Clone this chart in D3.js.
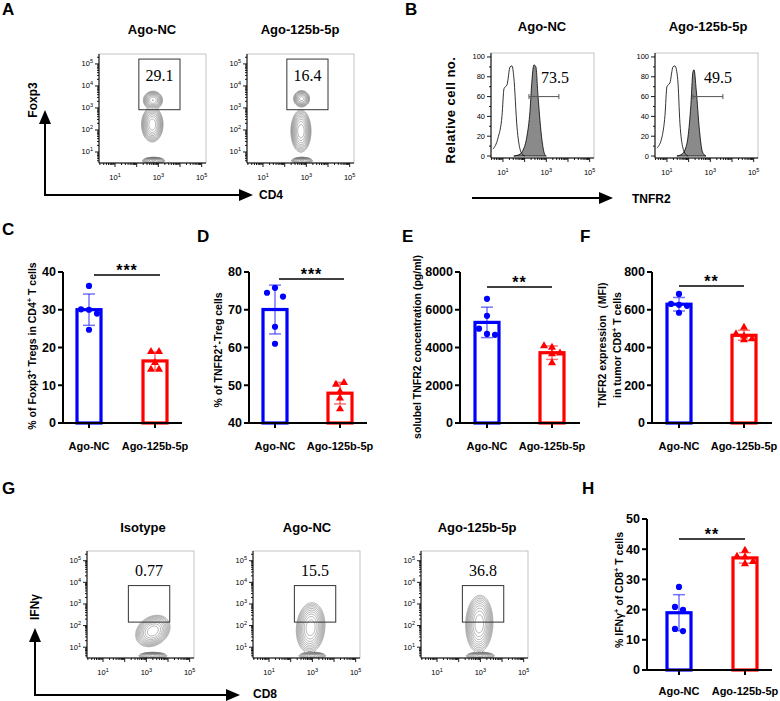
<!DOCTYPE html>
<html>
<head>
<meta charset="utf-8">
<script src="https://cdn.jsdelivr.net/npm/d3@7/dist/d3.min.js"></script>
<style>
  body { margin: 0; background: #fff; }
  svg text { font-family: Arial, "Liberation Sans", sans-serif; }
  svg text.num { font-family: "Liberation Serif", "Times New Roman", serif; }
</style>
</head>
<body>
<svg id="fig" width="780" height="701"></svg>
<script>
// ---------- data ----------
const groups = ["Ago-NC", "Ago-125b-5p"];

// A: Foxp3 vs CD4, populations [log CD4, log Foxp3, sdX, sdY, weight, rho]
const titlesA = ["Ago-NC", "Ago-125b-5p"];
const gatePctA = [29.1, 16.4];
const gateA = [2.1, 4.0, 2.92, 5.22];
const popsA_NC = [[2.75, 3.35, 0.14, 0.13, 0.6, 0], [2.72, 2.25, 0.15, 0.24, 1.0, 0], [2.78, 0.6, 0.16, 0.05, 0.7, 0]];
const popsA_125 = [[2.78, 3.42, 0.12, 0.12, 0.45, 0], [2.75, 1.95, 0.14, 0.29, 1.0, 0], [2.8, 0.6, 0.15, 0.05, 0.7, 0]];

// B: TNFR2 histograms, points [log TNFR2, % of max]
const titlesB = ["Ago-NC", "Ago-125b-5p"];
const gatePctB = [73.5, 49.5];
const gateB = [2.2, 3.58];
const isoB_NC = [[0.54, 7], [0.77, 18], [0.96, 41], [1.05, 68], [1.19, 72], [1.33, 90], [1.42, 91], [1.5, 80], [1.65, 29], [1.8, 6], [1.93, 1], [2.0, 0]];
const tnfrB_NC = [[1.5, 0], [1.8, 2], [1.93, 6], [2.1, 19], [2.25, 46], [2.33, 74], [2.43, 92], [2.52, 90], [2.62, 60], [2.8, 16], [2.94, 1], [3.0, 0]];
const isoB_125 = [[0.54, 8], [0.77, 19], [0.91, 41], [1.0, 70], [1.14, 74], [1.28, 90], [1.37, 91], [1.5, 77], [1.6, 33], [1.74, 8], [1.9, 1], [1.98, 0]];
const tnfrB_125 = [[1.46, 0], [1.69, 2], [1.83, 6], [1.97, 19], [2.1, 50], [2.2, 85], [2.25, 87], [2.35, 67], [2.5, 26], [2.64, 4], [2.8, 0]];

// C-F, H: bar charts (individual mice)
const tregNC = [36.3, 30.1, 30.0, 29.0, 24.7];
const treg125 = [18.9, 18.9, 16.0, 14.2, 14.2];
const tnfrTregNC = [74.5, 75.8, 73.5, 65.5, 61.0];
const tnfrTreg125 = [50.2, 50.7, 48.3, 46.6, 43.7];
const solTnfrNC = [6580, 5680, 5000, 4720, 4670];
const solTnfr125 = [4085, 4000, 3700, 3660, 3180];
const mfiNC = [684, 631, 626, 621, 584];
const mfi125 = [506, 472, 460, 445, 440];
const ifngNC = [27.5, 20.9, 19.9, 13.6, 12.9];
const ifng125 = [39.6, 37.6, 37.4, 35.9, 35.1];

const ticksC = [0, 10, 20, 30, 40];
const ticksD = [40, 50, 60, 70, 80];
const ticksE = [0, 2000, 4000, 6000, 8000];
const ticksF = [0, 200, 400, 600, 800];
const ticksH = [0, 10, 20, 30, 40, 50];

// G: IFNg vs CD8
const titlesG = ["Isotype", "Ago-NC", "Ago-125b-5p"];
const gatePctG = [0.77, 15.5, 36.8];
const gateG = [2.17, 4.08, 2.16, 3.85];
const popsG_Iso = [[3.3, 1.75, 0.24, 0.22, 1.0, 0.25], [3.3, 0.6, 0.2, 0.05, 0.8, 0]];
const popsG_NC = [[2.92, 1.9, 0.2, 0.35, 1.0, 0.1], [3.0, 0.6, 0.19, 0.05, 0.8, 0]];
const popsG_125 = [[2.95, 2.08, 0.19, 0.4, 1.0, 0.05], [3.0, 0.6, 0.2, 0.05, 0.8, 0]];

// ---------- drawing ----------
const svg = d3.select("#fig");
const BLUE = "#0000ff", RED = "#ff0000";
const flowX = [0.26, 5.2], flowY = [0.5, 5.45];
let clipN = 0;

function letter(x, y, t) {
    svg.append("text").attr("x", x).attr("y", y).attr("font-size", 17)
        .attr("font-weight", "bold").text(t);
}

function title(x, y, t) {
    svg.append("text").attr("x", x).attr("y", y).attr("text-anchor", "middle")
        .attr("font-size", 13).attr("font-weight", "bold").text(t);
}

function addParts(sel, parts) {
    parts.forEach(p => {
        const t = sel.append("tspan").text(p[0]);
        if (p[1]) t.attr("baseline-shift", "super").attr("font-size", "70%");
    });
}

function pow10(sel, k) {
    sel.append("tspan").text("10");
    sel.append("tspan").attr("baseline-shift", "super").attr("font-size", 5.5).text(k);
}

// log axes shared by flow plots and histograms
function logTicksX(g, xs, h) {
    for (let k = 0; k <= 5; k++) {
        for (let m = 1; m <= 9; m++) {
            const v = k + Math.log10(m);
            if (v < xs.domain()[0] || v > xs.domain()[1]) continue;
            g.append("line").attr("x1", xs(v)).attr("x2", xs(v))
                .attr("y1", h).attr("y2", h + (m === 1 ? 4 : 2))
                .attr("stroke", "#000").attr("stroke-width", 0.9);
        }
    }
    [1, 3, 5].forEach(k => {
        const t = g.append("text").attr("x", xs(k)).attr("y", h + 17)
            .attr("text-anchor", "middle").attr("font-size", 7.5);
        pow10(t, k);
    });
}

function frame(g, w, h) {
    g.append("rect").attr("width", w).attr("height", h).attr("fill", "none")
        .attr("stroke", "#b5b5b5").attr("stroke-width", 0.8);
    g.append("line").attr("x1", 0).attr("x2", 0).attr("y1", 0).attr("y2", h)
        .attr("stroke", "#000").attr("stroke-width", 1);
    g.append("line").attr("x1", 0).attr("x2", w).attr("y1", h).attr("y2", h)
        .attr("stroke", "#000").attr("stroke-width", 1);
}

function flowPlot(x0, y0, w, h, pops, gate, pct, labelInside) {
    const g = svg.append("g").attr("transform", `translate(${x0},${y0})`);
    const xs = d3.scaleLinear().domain(flowX).range([0, w]);
    const ys = d3.scaleLinear().domain(flowY).range([h, 0]);

    const vals = new Float64Array(w * h);
    for (let j = 0; j < h; j++) {
        for (let i = 0; i < w; i++) {
            const lx = xs.invert(i + 0.5), ly = ys.invert(j + 0.5);
            let s = 0;
            pops.forEach(([cx, cy, sx, sy, wt, rho]) => {
                const dx = (lx - cx) / sx, dy = (ly - cy) / sy;
                s += wt * Math.exp(-0.5 * (dx * dx - 2 * rho * dx * dy + dy * dy) / (1 - rho * rho));
            });
            vals[j * w + i] = s;
        }
    }
    const mx = d3.max(vals);
    const th = d3.range(1, 11).map(k => mx * Math.pow(0.58, k));
    const cs = d3.contours().size([w, h]).thresholds(th)(vals);

    const id = "clip" + (clipN++);
    g.append("clipPath").attr("id", id).append("rect").attr("width", w).attr("height", h);
    g.append("g").attr("clip-path", `url(#${id})`)
        .selectAll("path").data(cs).join("path")
        .attr("d", d3.geoPath())
        .attr("fill", "none").attr("stroke", "#666").attr("stroke-width", 0.5);

    frame(g, w, h);
    // y log ticks
    for (let k = 0; k <= 5; k++) {
        for (let m = 1; m <= 9; m++) {
            const v = k + Math.log10(m);
            if (v < flowY[0] || v > flowY[1]) continue;
            g.append("line").attr("x1", 0).attr("x2", m === 1 ? -4 : -2)
                .attr("y1", ys(v)).attr("y2", ys(v))
                .attr("stroke", "#000").attr("stroke-width", 0.9);
        }
    }
    [1, 2, 3, 4, 5].forEach(k => {
        const t = g.append("text").attr("x", -6).attr("y", ys(k) + 2.5)
            .attr("text-anchor", "end").attr("font-size", 7.5);
        pow10(t, k);
    });
    logTicksX(g, xs, h);

    // gate
    const gx = xs(gate[0]), gy = ys(gate[3]);
    g.append("rect").attr("x", gx).attr("y", gy)
        .attr("width", xs(gate[1]) - gx).attr("height", ys(gate[2]) - gy)
        .attr("fill", "none").attr("stroke", "#333").attr("stroke-width", 1);
    g.append("text").attr("class", "num").attr("x", (gx + xs(gate[1])) / 2)
        .attr("y", labelInside ? gy + 22 : gy - 10)
        .attr("text-anchor", "middle").attr("font-size", 16).text(pct);
}

function histPlot(x0, y0, w, h, iso, filled, gate, pct, lab) {
    const g = svg.append("g").attr("transform", `translate(${x0},${y0})`);
    const xs = d3.scaleLinear().domain([0.45, 5.2]).range([0, w]);
    const ys = d3.scaleLinear().domain([-2, 104]).range([h, 0]);
    const area = d3.area().x(d => xs(d[0])).y0(ys(0)).y1(d => ys(d[1])).curve(d3.curveMonotoneX);
    const line = d3.line().x(d => xs(d[0])).y(d => ys(d[1])).curve(d3.curveMonotoneX);
    g.append("path").attr("d", area(filled)).attr("fill", "#8a8a8a")
        .attr("stroke", "#000").attr("stroke-width", 0.8);
    g.append("path").attr("d", line(iso)).attr("fill", "none")
        .attr("stroke", "#000").attr("stroke-width", 0.8);

    frame(g, w, h);
    d3.range(0, 101, 10).forEach(v => {
        g.append("line").attr("x1", 0).attr("x2", v % 20 === 0 ? -4 : -2)
            .attr("y1", ys(v)).attr("y2", ys(v)).attr("stroke", "#000").attr("stroke-width", 0.9);
    });
    d3.range(0, 101, 20).forEach(v => {
        g.append("text").attr("x", -6).attr("y", ys(v) + 2.5).attr("text-anchor", "end")
            .attr("font-size", 7.5).text(v);
    });
    logTicksX(g, xs, h);

    // gate bar
    const gy = ys(60);
    g.append("line").attr("x1", xs(gate[0])).attr("x2", xs(gate[1])).attr("y1", gy).attr("y2", gy)
        .attr("stroke", "#555").attr("stroke-width", 1);
    [gate[0], gate[1]].forEach(v => g.append("line").attr("x1", xs(v)).attr("x2", xs(v))
        .attr("y1", gy - 2.5).attr("y2", gy + 2.5).attr("stroke", "#555").attr("stroke-width", 1));
    g.append("text").attr("class", "num").attr("x", xs(lab)).attr("y", ys(74)).attr("text-anchor", "middle")
        .attr("font-size", 16).text(pct);
}

function arrowV(x, yBottom, yTip) {
    svg.append("line").attr("x1", x).attr("x2", x).attr("y1", yBottom).attr("y2", yTip + 10)
        .attr("stroke", "#000").attr("stroke-width", 2);
    svg.append("path").attr("d", `M${x},${yTip} L${x - 6},${yTip + 14} L${x + 6},${yTip + 14} Z`).attr("fill", "#000");
}

function arrowH(xStart, xTip, y) {
    svg.append("line").attr("x1", xStart).attr("x2", xTip - 10).attr("y1", y).attr("y2", y)
        .attr("stroke", "#000").attr("stroke-width", 2);
    svg.append("path").attr("d", `M${xTip},${y} L${xTip - 14},${y - 6} L${xTip - 14},${y + 6} Z`).attr("fill", "#000");
}

function axisLabel(x, y, t, rot) {
    const el = svg.append("text").attr("font-size", 12).attr("font-weight", "bold")
        .attr("text-anchor", rot ? "middle" : "start").text(t);
    if (rot) el.attr("transform", `translate(${x},${y}) rotate(-90)`);
    else el.attr("x", x).attr("y", y);
    return el;
}

// beeswarm-like rows: points closer than thr px share a row, centred on the bar
function swarm(values, ys, step, thr, maxRow) {
    const idx = values.map((v, i) => i).sort((a, b) => values[b] - values[a]);
    const rows = [];
    let cur = [];
    idx.forEach(i => {
        if (cur.length && (Math.abs(ys(values[i]) - ys(values[cur[cur.length - 1]])) >= thr || cur.length >= maxRow)) {
            rows.push(cur);
            cur = [];
        }
        cur.push(i);
    });
    rows.push(cur);
    const off = [];
    rows.forEach(r => {
        r.sort((a, b) => a - b);
        r.forEach((i, k) => off[i] = (k - (r.length - 1) / 2) * step);
    });
    return off;
}

function barPanel(c) {
    const g = svg.append("g");
    const ys = d3.scaleLinear().domain(c.domain).range([c.bottom, c.top]);
    const xs = d3.scalePoint().domain(groups).range(c.cx);

    const sets = [[c.nc, BLUE, "circle"], [c.mi, RED, "tri"]];
    sets.forEach(([vals, col, shape], gi) => {
        const cx = xs(groups[gi]);
        const m = d3.mean(vals), sd = d3.deviation(vals);
        g.append("rect").attr("x", cx - 12).attr("y", ys(m))
            .attr("width", 24).attr("height", ys(c.domain[0]) - ys(m))
            .attr("fill", "#fff").attr("stroke", col).attr("stroke-width", 3.2);
        const off = swarm(vals, ys, 8, 6, 3);
        const pg = g.append("g");
        vals.forEach((v, i) => {
            if (shape === "circle") {
                pg.append("circle").attr("cx", cx + off[i]).attr("cy", ys(v)).attr("r", 3.1).attr("fill", col);
            } else {
                pg.append("path").attr("d", d3.symbol(d3.symbolTriangle, 28)())
                    .attr("transform", `translate(${cx + off[i]},${ys(v)})`).attr("fill", col);
            }
        });
        const eg = g.append("g").attr("stroke", col).attr("stroke-opacity", 0.55).attr("stroke-width", 1.5);
        eg.append("line").attr("x1", cx).attr("x2", cx).attr("y1", ys(m + sd)).attr("y2", ys(m - sd));
        [m + sd, m - sd].forEach(v => eg.append("line").attr("x1", cx - 6).attr("x2", cx + 6)
            .attr("y1", ys(v)).attr("y2", ys(v)));
    });

    // axes
    g.append("line").attr("x1", c.x).attr("x2", c.x).attr("y1", c.bottom + 1).attr("y2", c.top)
        .attr("stroke", "#000").attr("stroke-width", 2);
    g.append("line").attr("x1", c.x - 1).attr("x2", c.xEnd).attr("y1", c.bottom).attr("y2", c.bottom)
        .attr("stroke", "#000").attr("stroke-width", 2);
    c.ticks.forEach(v => {
        g.append("line").attr("x1", c.x - 5).attr("x2", c.x).attr("y1", ys(v)).attr("y2", ys(v))
            .attr("stroke", "#000").attr("stroke-width", 2);
        g.append("text").attr("x", c.x - 7).attr("y", ys(v) + 4.3).attr("text-anchor", "end")
            .attr("font-size", 12.5).attr("font-weight", "bold").text(v);
    });
    groups.forEach(gr => {
        g.append("line").attr("x1", xs(gr)).attr("x2", xs(gr)).attr("y1", c.bottom).attr("y2", c.bottom + 5)
            .attr("stroke", "#000").attr("stroke-width", 2);
        g.append("text").attr("x", xs(gr)).attr("y", c.tickY).attr("text-anchor", "middle")
            .attr("font-size", 11).attr("font-weight", "bold").text(gr);
    });

    // significance
    const s0 = xs(groups[0]) + c.sigShift, s1 = xs(groups[1]) + c.sigShift;
    g.append("line").attr("x1", s0).attr("x2", s1).attr("y1", c.sigY).attr("y2", c.sigY)
        .attr("stroke", "#000").attr("stroke-width", 1.5);
    g.append("text").attr("x", (s0 + s1) / 2).attr("y", c.sigY + 1).attr("text-anchor", "middle")
        .attr("font-size", 16).attr("font-weight", "bold").attr("letter-spacing", 1).text(c.sig);

    // y label
    c.label.forEach((parts, li) => {
        const t = g.append("text").attr("font-size", 10.5).attr("font-weight", "bold")
            .attr("text-anchor", "middle")
            .attr("transform", `translate(${c.labelX[li]},${c.labelY}) rotate(-90)`);
        addParts(t, parts);
    });
}

// ---- panel A ----
letter(2, 15, "A");
title(152, 34, titlesA[0]);
title(300, 34, titlesA[1]);
flowPlot(99, 54, 107, 109, popsA_NC, gateA, gatePctA[0], true);
flowPlot(247, 54, 107, 109, popsA_125, gateA, gatePctA[1], true);
arrowV(45, 196, 110);
arrowH(44, 253, 195);
axisLabel(37, 100, "Foxp3", true);
axisLabel(259, 199, "CD4", false);

// ---- panel B ----
letter(405, 15, "B");
title(542, 31, titlesB[0]);
title(708, 31, titlesB[1]);
histPlot(491, 53, 103, 105, isoB_NC, tnfrB_NC, gateB, gatePctB[0], 3.4);
histPlot(655, 53, 103, 105, isoB_125, tnfrB_125, gateB, gatePctB[1], 3.35);
axisLabel(455, 110, "Relative cell no.", true).attr("font-size", 13).attr("letter-spacing", 0.5);
arrowH(472, 613, 198);
axisLabel(632, 203, "TNFR2", false);

// ---- panels C-F ----
letter(2, 235, "C");
letter(197, 242, "D");
letter(402, 242, "E");
letter(580, 242, "F");

barPanel({x: 63, xEnd: 182, top: 272, bottom: 423, cx: [89, 155], domain: [0, 40], ticks: ticksC,
    nc: tregNC, mi: treg125, sig: "***", sigY: 275, sigShift: 5, tickY: 450,
    label: [[["% of Foxp3"], ["+", 1], [" Tregs in CD4"], ["+", 1], [" T cells"]]], labelX: [36], labelY: 346});
barPanel({x: 249, xEnd: 367, top: 272, bottom: 423, cx: [275, 340], domain: [40, 80], ticks: ticksD,
    nc: tnfrTregNC, mi: tnfrTreg125, sig: "***", sigY: 279, sigShift: 4, tickY: 450,
    label: [[["% of TNFR2"], ["+", 1], ["-Treg cells"]]], labelX: [222], labelY: 350});
barPanel({x: 460, xEnd: 580, top: 272, bottom: 423, cx: [487, 552], domain: [0, 8000], ticks: ticksE,
    nc: solTnfrNC, mi: solTnfr125, sig: "**", sigY: 287, sigShift: 0, tickY: 450,
    label: [[["solubel TNFR2 concentration (pg/ml)"]]], labelX: [421], labelY: 347});
barPanel({x: 652, xEnd: 772, top: 272, bottom: 423, cx: [679, 744], domain: [0, 800], ticks: ticksF,
    nc: mfiNC, mi: mfi125, sig: "**", sigY: 286, sigShift: 0, tickY: 450,
    label: [[["TNFR2 expression\uff08MFI)"]], [["in tumor CD8"], ["+", 1], [" T cells"]]], labelX: [606, 621], labelY: 345});

// ---- panel G ----
letter(2, 494, "G");
title(143, 532, titlesG[0]);
title(307, 532, titlesG[1]);
title(477, 532, titlesG[2]);
flowPlot(87, 551, 107, 107, popsG_Iso, gateG, gatePctG[0], false);
flowPlot(253, 551, 107, 107, popsG_NC, gateG, gatePctG[1], false);
flowPlot(421, 551, 107, 107, popsG_125, gateG, gatePctG[2], false);
arrowV(35, 696, 628);
arrowH(34, 240, 695);
axisLabel(39, 607, "IFN\u03b3", true);
axisLabel(253, 698, "CD8", false);

// ---- panel H ----
letter(582, 494, "H");
barPanel({x: 647, xEnd: 772, top: 519, bottom: 670, cx: [679, 745], domain: [0, 50], ticks: ticksH,
    nc: ifngNC, mi: ifng125, sig: "**", sigY: 539, sigShift: 0, tickY: 695,
    label: [[["% IFN\u03b3"], ["+", 1], [" of CD8"], ["+", 1], [" T cells"]]], labelX: [623], labelY: 590});
</script>
</body>
</html>
